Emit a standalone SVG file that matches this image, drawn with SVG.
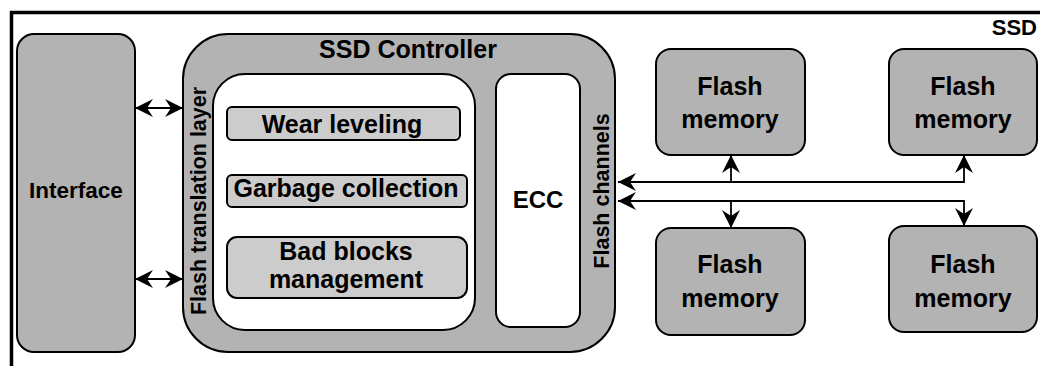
<svg xmlns="http://www.w3.org/2000/svg" width="1040" height="366" viewBox="0 0 1040 366">
<style>
text{font-family:"Liberation Sans",Arial,sans-serif;font-weight:bold;fill:#000;text-anchor:middle}
.box{fill:#b3b3b3;stroke:#000;stroke-width:2}
.white{fill:#fff;stroke:#000;stroke-width:2}
.light{fill:#cccccc;stroke:#000;stroke-width:2}
.con{fill:none;stroke:#000;stroke-width:1.8}
.t25{font-size:25px}
</style>
<defs>
<marker id="arr" markerUnits="userSpaceOnUse" viewBox="-20 -10 21 20" refX="0" refY="0" markerWidth="21" markerHeight="20" orient="auto-start-reverse">
<path d="M0,0 L-18,-9 L-12,0 L-18,9 Z" fill="#000"/>
</marker>
</defs>
<rect x="11.5" y="12.5" width="1040" height="400" fill="#fff" stroke="#000" stroke-width="3.5"/>
<text x="1037" y="35" style="font-size:22px;text-anchor:end">SSD</text>

<g id="interface">
<rect class="box" x="17" y="34" width="118" height="318" rx="17"/>
<text x="76" y="198" style="font-size:22.5px">Interface</text>
</g>

<g id="controller">
<rect class="box" x="183" y="34" width="432" height="318" rx="45"/>
<text class="t25" x="408" y="58">SSD Controller</text>
<text x="0" y="0" style="font-size:21.5px" transform="translate(206,201) rotate(-90)">Flash translation layer</text>
<text x="0" y="0" style="font-size:21.5px" transform="translate(609,191) rotate(-90)">Flash channels</text>
</g>

<g id="ftl">
<rect class="white" x="213" y="74" width="262" height="256" rx="32"/>
</g>

<g id="wear">
<rect class="light" x="227" y="107" width="233" height="33" rx="5"/>
<text class="t25" x="342" y="133">Wear leveling</text>
</g>

<g id="garbage">
<rect class="light" x="227" y="175" width="240" height="32" rx="5"/>
<text class="t25" x="346" y="197">Garbage collection</text>
</g>

<g id="badblocks">
<rect class="light" x="227" y="237" width="240" height="61" rx="10"/>
<text class="t25" x="346" y="260">Bad blocks</text>
<text class="t25" x="346" y="288">management</text>
</g>

<g id="ecc">
<rect class="white" x="496" y="74" width="84" height="253" rx="15"/>
<text x="538" y="208" style="font-size:24px">ECC</text>
</g>

<g id="flash1">
<rect class="box" x="656" y="49" width="149" height="106" rx="15"/>
<text class="t25" x="730" y="95">Flash</text>
<text class="t25" x="730" y="128">memory</text>
</g>
<g id="flash2">
<rect class="box" x="889" y="49" width="148" height="106" rx="15"/>
<text class="t25" x="963" y="95">Flash</text>
<text class="t25" x="963" y="128">memory</text>
</g>
<g id="flash3">
<rect class="box" x="656" y="228" width="149" height="107" rx="15"/>
<text class="t25" x="730" y="273">Flash</text>
<text class="t25" x="730" y="307">memory</text>
</g>
<g id="flash4">
<rect class="box" x="889" y="226" width="148" height="106" rx="15"/>
<text class="t25" x="963" y="273">Flash</text>
<text class="t25" x="963" y="307">memory</text>
</g>

<g id="connectors">
<path class="con" d="M135,108 L183,108" marker-start="url(#arr)" marker-end="url(#arr)"/>
<path class="con" d="M135,279 L183,279" marker-start="url(#arr)" marker-end="url(#arr)"/>
<path class="con" d="M964,155 L964,182 L618,182" marker-start="url(#arr)" marker-end="url(#arr)"/>
<path class="con" d="M731,182 L731,155" marker-end="url(#arr)"/>
<path class="con" d="M618,201 L964,201 L964,226" marker-start="url(#arr)" marker-end="url(#arr)"/>
<path class="con" d="M731,201 L731,228" marker-end="url(#arr)"/>
</g>
</svg>
